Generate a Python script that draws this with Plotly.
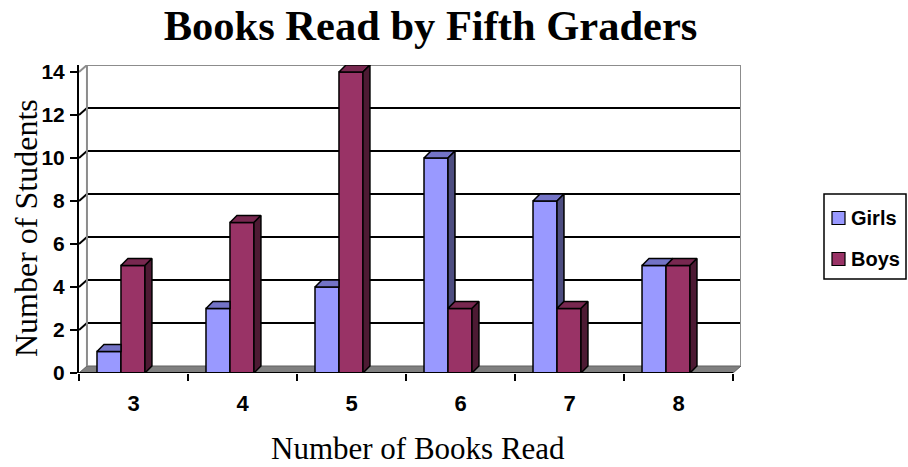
import plotly.graph_objects as go

# Data: number of students by books read
categories = ["3", "4", "5", "6", "7", "8"]
girls = [1, 3, 4, 10, 8, 5]
boys = [5, 7, 14, 3, 3, 5]
y_ticks = [0, 2, 4, 6, 8, 10, 12, 14]

# Colours (front / top / side faces)
GIRL_FRONT, GIRL_TOP, GIRL_SIDE = "#9999FF", "#7373C6", "#4D4D80"
BOY_FRONT, BOY_TOP, BOY_SIDE = "#993366", "#782850", "#4D1A33"

SERIF = "Times New Roman, Liberation Serif, serif"
SANS = "Arial, Liberation Sans, sans-serif"

# Figure / plot-area pixel frame
W, H = 908, 467
PL, PR, PT, PB = 79, 741, 65, 373


def px(xp):
    return (xp - PL) / (PR - PL)


def py(yp):
    return (PB - yp) / (PB - PT)


# Geometry in axis units
n = len(categories)
bar_w = 0.22
girl_off = 0.165
boy_off = girl_off + bar_w
dx, dy = 0.064, 0.325      # bar depth projection
wx, wy = 0.073, 0.325      # back wall projection
y_max = max(y_ticks) + wy

fig = go.Figure()

girl_x = [i + girl_off + bar_w / 2 for i in range(n)]
boy_x = [i + boy_off + bar_w / 2 for i in range(n)]

fig.add_trace(go.Bar(x=girl_x, y=girls, width=bar_w, name="Girls",
                     marker=dict(color=GIRL_FRONT, line=dict(color="black", width=1.5)),
                     showlegend=False, hoverinfo="skip"))
fig.add_trace(go.Bar(x=boy_x, y=boys, width=bar_w, name="Boys",
                     marker=dict(color=BOY_FRONT, line=dict(color="black", width=1.5)),
                     showlegend=False, hoverinfo="skip"))


def poly_trace(xs, ys, color):
    return go.Scatter(x=xs, y=ys, mode="lines", fill="toself", fillcolor=color,
                      line=dict(color="black", width=1.5), showlegend=False,
                      hoverinfo="skip")


# Girls top and visible side faces (clipped where the boys bar is in front)
gt_x, gt_y, gs_x, gs_y = [], [], [], []
for i, (g, b) in enumerate(zip(girls, boys)):
    x0 = i + girl_off
    x1 = x0 + bar_w
    if b > g:
        gt_x += [x0, x0 + dx, x1, x1, x0, None]
        gt_y += [g, g + dy, g + dy, g, g, None]
    else:
        gt_x += [x0, x0 + dx, x1 + dx, x1, x0, None]
        gt_y += [g, g + dy, g + dy, g, g, None]
    if g > b:
        gs_x += [x1, x1 + dx, x1 + dx, x1, x1, None]
        gs_y += [b, b + dy, g + dy, g, b, None]

# Boys top and side faces
bt_x, bt_y, bs_x, bs_y = [], [], [], []
for i, b in enumerate(boys):
    x0 = i + boy_off
    x1 = x0 + bar_w
    bt_x += [x0, x0 + dx, x1 + dx, x1, x0, None]
    bt_y += [b, b + dy, b + dy, b, b, None]
    bs_x += [x1, x1 + dx, x1 + dx, x1, x1, None]
    bs_y += [0, dy, b + dy, b, 0, None]

fig.add_trace(poly_trace(gt_x, gt_y, GIRL_TOP))
if gs_x:
    fig.add_trace(poly_trace(gs_x, gs_y, GIRL_SIDE))
fig.add_trace(poly_trace(bt_x, bt_y, BOY_TOP))
fig.add_trace(poly_trace(bs_x, bs_y, BOY_SIDE))

shapes = []
# Floor
shapes.append(dict(type="path", xref="x", yref="y", layer="below",
                   path=f"M 0 0 L {n} 0 L {n + wx} {wy} L {wx} {wy} Z",
                   fillcolor="#808080", line=dict(color="#606060", width=1)))
# Back wall gridlines (with the short run across the side wall)
for v in y_ticks[1:-1]:
    shapes.append(dict(type="path", xref="x", yref="y", layer="below",
                       path=f"M 0 {v} L {wx} {v + wy} L {n + wx} {v + wy}",
                       line=dict(color="black", width=2)))
# Wall outlines
top = y_ticks[-1]
shapes.append(dict(type="path", xref="x", yref="y", layer="below",
                   path=f"M {wx} {wy} L {wx} {top + wy} L {n + wx} {top + wy} L {n + wx} {wy}",
                   line=dict(color="#8C8C8C", width=2)))
shapes.append(dict(type="path", xref="x", yref="y", layer="below",
                   path=f"M 0 {top} L {wx} {top + wy}",
                   line=dict(color="#8C8C8C", width=2)))
shapes.append(dict(type="line", xref="x", yref="y", layer="above",
                   x0=0, x1=n, y0=0, y1=0, line=dict(color="black", width=2)))

# Legend box
shapes.append(dict(type="rect", xref="paper", yref="paper",
                   x0=px(824), x1=px(906), y0=py(279), y1=py(194),
                   line=dict(color="black", width=1.5), fillcolor="white"))
legend_items = [("Girls", GIRL_FRONT, 218), ("Boys", BOY_FRONT, 259)]
annotations = []
for label, col, ly in legend_items:
    shapes.append(dict(type="rect", xref="paper", yref="paper",
                       x0=px(832), x1=px(845),
                       y0=py(ly + 6.5), y1=py(ly - 6.5),
                       fillcolor=col, line=dict(color="black", width=1.2)))
    annotations.append(dict(text=label, xref="paper", yref="paper",
                            x=px(849), y=py(ly), xanchor="left", yanchor="middle",
                            showarrow=False,
                            font=dict(family=SANS, size=20, color="black", weight="bold")))

# Axis titles
annotations.append(dict(text="Number of Students", xref="paper", yref="paper",
                        x=px(26), y=py(228), textangle=-90, showarrow=False,
                        xanchor="center", yanchor="middle",
                        font=dict(family=SERIF, size=32, color="black")))
annotations.append(dict(text="Number of Books Read", xref="paper", yref="paper",
                        x=px(418), y=py(448), showarrow=False,
                        xanchor="center", yanchor="middle",
                        font=dict(family=SERIF, size=31, color="black")))

fig.update_layout(
    width=W, height=H,
    margin=dict(l=PL, r=W - PR, t=PT, b=H - PB),
    paper_bgcolor="white", plot_bgcolor="white",
    title=dict(text="<b>Books Read by Fifth Graders</b>", xref="container", yref="container",
               x=430.5 / W, y=1 - 25 / H, xanchor="center", yanchor="middle",
               font=dict(family=SERIF, size=42.5, color="black")),
    xaxis=dict(range=[0, n + wx], tickvals=[i + 0.5 for i in range(n)], ticktext=categories,
               ticks="", showgrid=False, zeroline=False, showline=False,
               ticklabelstandoff=15,
               tickfont=dict(family=SANS, size=22, color="black", weight="bold"),
               minor=dict(tickmode="linear", tick0=0, dtick=1, ticks="outside",
                          ticklen=7, tickwidth=1.5, tickcolor="black", showgrid=False),
               fixedrange=True),
    yaxis=dict(range=[0, y_max], tickvals=y_ticks, ticks="outside", ticklen=7,
               tickwidth=1.5, tickcolor="black", showgrid=False, zeroline=False,
               showline=True, linecolor="black", linewidth=2, ticklabelstandoff=1,
               tickfont=dict(family=SANS, size=21, color="black", weight="bold"),
               fixedrange=True),
    barmode="overlay",
    shapes=shapes,
    annotations=annotations,
)

fig.write_html("out.html")
